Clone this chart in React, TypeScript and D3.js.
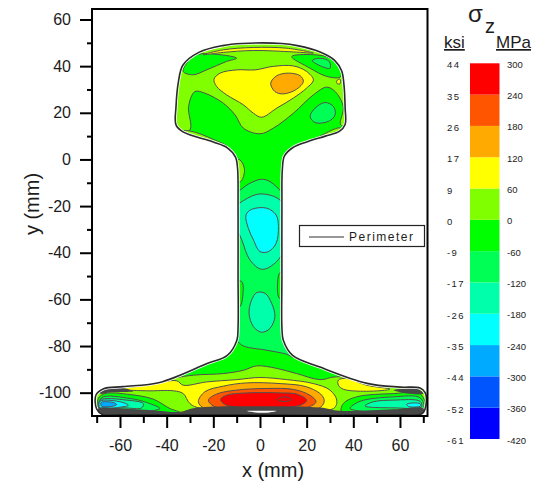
import React, { useEffect, useRef } from 'react';
import * as d3 from 'd3';

type Pt = [number, number];

// Axis ticks (mm)
const xMajor = [-60, -40, -20, 0, 20, 40, 60];
const xMinor = [-70, -50, -30, -10, 10, 30, 50, 70];
const yMajor = [60, 40, 20, 0, -20, -40, -60, -80, -100];
const yMinor = [50, 30, 10, -10, -30, -50, -70, -90];

// Colour key
const stressTicks = [300, 240, 180, 120, 60, 0, -60, -120, -180, -240, -300, -360, -420];
const ksiLabels = ['44', '35', '26', '17', '9', '0', '-9', '-17', '-26', '-35', '-44', '-52', '-61'];
const bandColors = ['#0000ff', '#0055ff', '#00aaff', '#00ffff', '#00ffaa', '#00ff55', '#00ff00', '#80ff00', '#ffff00', '#ffaa00', '#ff5500', '#ff0000'];

// Rail outline (mm)
const perimeter: Pt[] = [
  [-7.7, 49.7], [9.4, 49.7], [16, 48.8], [26, 46], [32, 42.5], [35, 38], [36, 32], [36.5, 22], [36.5, 15], [34, 12], [28, 10], [20, 7.5], [14, 5], [10.5, 1.5], [9.6, -4], [9.4, -20], [9.4, -50], [9.4, -72], [10, -77.5], [14, -84], [25.7, -89], [45.9, -96], [60, -97.6], [68.6, -98], [70.8, -100], [71, -106], [69.5, -109], [60, -109.5], [0, -109.5], [-60, -109.5], [-67.7, -109.3], [-70, -107], [-70.3, -101], [-67, -98.3], [-58.7, -97.4], [-43, -95.6], [-22.7, -87.5], [-14, -84], [-9.9, -77.5], [-9.4, -72], [-9.4, -50], [-9.4, -20], [-9.6, -4], [-10.5, 1], [-14, 5], [-20, 7.5], [-33, 11.8], [-36, 14.8], [-36, 22.5], [-35, 33], [-33, 40.5], [-26, 46], [-16, 48.8],
];

// Contours of the head
const headTension: Pt[] = [[-35.7, 11.2], [-30, 12.7], [-30.6, 22.7], [-27.9, 29.1], [-23.6, 28.4], [-15.7, 24.1], [-10.7, 19.1], [-7.1, 13.4], [0, 11], [5.7, 13.4], [14.3, 19.8], [22.9, 27.7], [28.6, 31], [32.2, 29.1], [35.7, 22.7], [34.6, 14.8], [38.6, 14.8], [38.6, 51.3], [-38.6, 51.3], [-39.3, 11.2]];
const headTopLeft: Pt[] = [[-31.4, 41.3], [-27.1, 44.9], [-17.1, 44.9], [-10, 43.4], [-14.3, 42], [-22.9, 38.4], [-28.6, 36.3], [-32.9, 37.7]];
const headTopRight: Pt[] = [[13.6, 44.1], [22.9, 44.9], [30, 43.4], [35, 37.7], [34.3, 35.3], [28.6, 35.6], [21.5, 39.1]];
const headTopRightCore: Pt[] = [[22.4, 42.4], [25.7, 43.4], [29.7, 42], [30, 39.1], [26.4, 39.9]];
const headYellow: Pt[] = [[-19.7, 34.4], [-17.1, 37], [-10, 38.4], [-2.1, 38.4], [5.7, 39.9], [14.3, 40.1], [20, 37.7], [22.9, 34.1], [20, 30.6], [14.3, 26.3], [7.2, 22], [0.7, 18.1], [-2.8, 19.8], [-7.1, 23.4], [-14.3, 27.7], [-18.6, 31.3]];
const headOrange: Pt[] = [[4.6, 32.7], [7.2, 35.9], [12.2, 37], [17.2, 35.9], [18.6, 33.4], [15.7, 30.1], [10, 28.1], [6.4, 29.1]];
const headRightLobe: Pt[] = [[21.5, 18.4], [23.6, 22], [27.9, 24.4], [31.5, 22.7], [32.2, 19.1], [29.3, 16.3], [23.6, 15.8]];
const headCrown: Pt[] = [[-24.3, 44.9], [-15.7, 47], [-2.9, 48], [11.4, 47.7], [22.9, 45.6], [14.3, 46.1], [-2.9, 46.7], [-15.7, 45.9]];
const headSpeck: Pt[] = [[33.2, 34.1], [34.3, 34.4], [34.3, 32.4], [32.9, 32.7]];
const headUnderLeft: Pt[] = [[-36, 12], [-30, 12.2], [-20, 8.6], [-13.6, 5.2], [-13, 3], [-21, 6], [-33, 10]];
const headUnderRight: Pt[] = [[34.5, 13.5], [22.9, 8.6], [14, 5], [15, 3], [24, 6], [36, 11]];

// Contours of the web
const webUpperSliver: Pt[] = [[-8.6, -0.2], [-6.7, -3.8], [-7.1, -7.4], [-8.3, -9.5], [-10.7, -9.5], [-10.7, -0.2]];
const webBand: Pt[] = [[-12, -14.5], [-10.7, -14.5], [-4.3, -10.2], [0.7, -8.5], [4.3, -9.5], [10, -14.5], [12, -16], [12, -60], [14.3, -84.6], [11.4, -83.5], [2.9, -81.8], [-7.1, -80], [-10, -77.8], [-12, -77], [-12, -40]];
const webLeftSliver: Pt[] = [[-7.8, -52.4], [-7.4, -58.8], [-8.6, -63.1], [-10.7, -63.1], [-10.7, -52.4]];
const webRightSliver: Pt[] = [[8.6, -48.5], [7.5, -53.8], [8.3, -59.5], [10.7, -59.5], [10.7, -48.5]];
const webUpperLobe: Pt[] = [[-7.8, -18.1], [0, -14.8], [8.6, -17.4], [11.7, -24.5], [11.7, -36], [6.4, -44.5], [0.7, -47.1], [-4.3, -43.1], [-7.8, -34.5], [-10.7, -27.4], [-10.7, -20.9]];
const webCore: Pt[] = [[-6, -23.8], [-3.6, -21.4], [2.9, -20.9], [6.9, -23.8], [7.9, -28.8], [6.9, -36], [3.6, -39.5], [0, -39.5], [-2.8, -34.5], [-5, -29.5]];
const webLowerLobe: Pt[] = [[-4.7, -66], [-3.6, -60.3], [-1.4, -57.1], [2.2, -57.4], [5, -61.7], [6.4, -67.4], [4.3, -72.4], [0.7, -74.1], [-2.8, -71.7]];

// Contours of the foot
const footTension: Pt[] = [[-72.9, -97.5], [-42.9, -94.6], [-28.6, -92.5], [-15.7, -91.8], [-7.1, -90.4], [-1.4, -88.5], [7.2, -89.6], [15.7, -91.8], [25.7, -94.4], [32.9, -93.2], [74.3, -98.9], [74.3, -110.4], [-72.9, -110.4]];
const footYellow: Pt[] = [[-60, -98.5], [-48.6, -96.8], [-35.7, -94.9], [-32.9, -96.8], [-22.9, -95.4], [-10, -94.4], [0, -93.5], [11.4, -94.4], [22.9, -96.1], [30, -98.9], [32.9, -103.2], [31.5, -106.8], [-25, -106.8], [-30, -104.7], [-32.9, -100.4], [-37.1, -99.2], [-48.6, -99.2]];
const footOrange: Pt[] = [[-26.4, -103.9], [-23.6, -99.6], [-15.7, -97.2], [-5.7, -95.8], [8.6, -96.1], [20, -97.5], [26.5, -101.1], [27.5, -103.9], [25, -106.8], [-23.6, -106.8]];
const footDeepOrange: Pt[] = [[-22.1, -103.2], [-18.6, -100.6], [-10, -98.9], [2.9, -98.2], [14.3, -98.6], [21.4, -101.1], [24, -103.9], [20, -106.4], [-18.6, -106.4]];
const footRed: Pt[] = [[-16.9, -102.9], [-14.3, -101.1], [-5.7, -100.1], [8.6, -100.1], [15.7, -100.6], [20, -103.2], [17.2, -105.4], [-14.3, -105.4]];
const footRedCore: Pt[] = [[7.4, -102.9], [10.7, -101.8], [13.6, -102.9], [12.2, -103.6], [8.6, -103.6]];
const footRightYellow: Pt[] = [[33.6, -94.6], [37.2, -93.9], [45.7, -96.8], [55.7, -98.5], [45.7, -99.4], [35.7, -98.5], [33.6, -96.8]];
const footLeft1: Pt[] = [[-66.4, -100.4], [-55.7, -100.8], [-45.7, -102.8], [-38.6, -106.8], [-34.3, -108.5], [-68.6, -108.5], [-69.3, -102.5]];
const footLeft2: Pt[] = [[-67.9, -102.2], [-55.7, -102.5], [-48.6, -104.2], [-42.9, -106.8], [-68.6, -107.7]];
const footLeft3: Pt[] = [[-68.6, -103.2], [-57.1, -103.2], [-50, -104.7], [-50.7, -106.5], [-58.6, -106.5], [-68.6, -106.8]];
const footLeft4: Pt[] = [[-68.6, -103.7], [-60, -103.9], [-56.4, -105.4], [-60, -106.2], [-68.6, -106.5]];
const footLeft5: Pt[] = [[-68.1, -104.2], [-62.9, -104.2], [-61.4, -105.1], [-63.6, -105.9], [-67.9, -105.8]];
const footRight1: Pt[] = [[35, -108.2], [35.7, -104.7], [41.4, -101.8], [57.2, -100.4], [68.6, -100.4], [70.7, -107.5]];
const footRight2: Pt[] = [[38.6, -106.8], [42.9, -103.7], [57.2, -101.8], [68.6, -102.2], [70, -106.8]];
const footRight3: Pt[] = [[45, -105.7], [48.6, -103.9], [57.2, -103.2], [68.6, -103.7], [69.3, -106.1], [57.2, -106.5]];
const footRight4: Pt[] = [[62.9, -104.9], [68.6, -104.7], [68.9, -105.7], [63.6, -105.9]];

// Patches where the contour lines run together into solid grey
const denseBottom: Pt[] = [[-69.3, -106.8], [-58.6, -106.8], [-44.3, -107.7], [-34.3, -108.2], [-27, -106.4], [0, -105.8], [25.7, -106.4], [34.3, -107.8], [57.2, -107.1], [70, -106.8], [70, -110], [-69.3, -110]];
const denseLeft: Pt[] = [[-68.6, -98.9], [-60, -97.9], [-54.3, -99.4], [-64.3, -99.9], [-68.6, -100.4]];
const denseRight: Pt[] = [[57.2, -98.9], [67.2, -98.2], [70, -100.4], [62.9, -100.4]];
const bottomGap: Pt[] = [[-5.7, -107.9], [-2, -107.8], [4, -107.8], [7.1, -107.9], [4, -108.5], [-2, -108.5]];

// Drawing order, outermost first, each with a stress inside its band (MPa)
const regions: { pts: Pt[]; stress: number }[] = [
  { pts: headTension, stress: 30 },
  { pts: headUnderLeft, stress: 30 },
  { pts: headUnderRight, stress: 30 },
  { pts: headTopLeft, stress: -30 },
  { pts: headTopRight, stress: -30 },
  { pts: headTopRightCore, stress: -90 },
  { pts: headYellow, stress: 90 },
  { pts: headOrange, stress: 150 },
  { pts: headRightLobe, stress: -90 },
  { pts: headCrown, stress: 90 },
  { pts: headSpeck, stress: 90 },
  { pts: webUpperSliver, stress: 30 },
  { pts: webBand, stress: -90 },
  { pts: webLeftSliver, stress: -30 },
  { pts: webRightSliver, stress: -30 },
  { pts: webUpperLobe, stress: -150 },
  { pts: webCore, stress: -210 },
  { pts: webLowerLobe, stress: -150 },
  { pts: footTension, stress: 30 },
  { pts: footYellow, stress: 90 },
  { pts: footOrange, stress: 150 },
  { pts: footDeepOrange, stress: 210 },
  { pts: footRed, stress: 270 },
  { pts: footRedCore, stress: 270 },
  { pts: footRightYellow, stress: 90 },
  { pts: footLeft1, stress: -30 },
  { pts: footLeft2, stress: -90 },
  { pts: footLeft3, stress: -150 },
  { pts: footLeft4, stress: -210 },
  { pts: footLeft5, stress: -270 },
  { pts: footRight1, stress: -30 },
  { pts: footRight2, stress: -90 },
  { pts: footRight3, stress: -150 },
  { pts: footRight4, stress: -210 },
];

const App = () => {
  const svgRef = useRef<SVGSVGElement>(null);

  useEffect(() => {
    const svg = d3.select(svgRef.current);
    svg.selectAll('*').remove();

    const font = '"Liberation Sans", Arial, sans-serif';
    const ink = '#1c1c1c';
    const left = 92, right = 427.5, top = 9, bottom = 416;

    const x = d3.scaleLinear().domain([-72, 71.8]).range([left, right]);
    const y = d3.scaleLinear().domain([-110, 64.5]).range([bottom, top]);
    const legendY = d3.scaleLinear().domain([-420, 300]).range([439, 63.3]);

    const ascending = [...stressTicks].reverse();
    const stressColor = d3.scaleThreshold<number, string>().domain(ascending.slice(1, -1)).range(bandColors);

    const outline = d3.line<Pt>().x(d => x(d[0])).y(d => y(d[1])).curve(d3.curveCatmullRomClosed.alpha(0.5));

    svg.append('defs').append('clipPath').attr('id', 'rail')
      .append('path').attr('d', outline(perimeter));

    // Filled contours
    svg.append('path').attr('d', outline(perimeter)).attr('fill', stressColor(-30));
    const field = svg.append('g').attr('clip-path', 'url(#rail)');
    field.selectAll('path.band')
      .data(regions)
      .enter()
      .append('path')
      .attr('class', 'band')
      .attr('d', d => outline(d.pts))
      .attr('fill', d => stressColor(d.stress))
      .attr('stroke', '#505050')
      .attr('stroke-width', 1);
    field.selectAll('path.dense')
      .data([denseLeft, denseRight])
      .enter()
      .append('path')
      .attr('class', 'dense')
      .attr('d', d => outline(d))
      .attr('fill', '#474747');

    // Perimeter line with its white gap
    svg.append('path').attr('d', outline(perimeter)).attr('fill', 'none').attr('stroke', 'white').attr('stroke-width', 3.2);
    const over = svg.append('g').attr('clip-path', 'url(#rail)');
    over.append('path').attr('d', outline(denseBottom)).attr('fill', '#474747');
    over.append('path').attr('d', outline(bottomGap)).attr('fill', 'white');
    svg.append('path').attr('d', outline(perimeter)).attr('fill', 'none').attr('stroke', '#2a2a2a').attr('stroke-width', 1.6);

    // Frame and axes
    svg.append('rect')
      .attr('x', left).attr('y', top)
      .attr('width', right - left).attr('height', bottom - top)
      .attr('fill', 'none').attr('stroke', 'black').attr('stroke-width', 2);

    const styleAxis = (g: any) => {
      g.select('.domain').remove();
      g.selectAll('line').attr('stroke', 'black').attr('stroke-width', 2);
      g.selectAll('text').attr('fill', ink).attr('font-family', font).attr('font-size', 16);
    };

    svg.append('g').attr('transform', `translate(0, ${bottom})`)
      .call(d3.axisBottom(x).tickValues(xMajor).tickSize(12).tickPadding(12).tickFormat(d => String(d)))
      .call(styleAxis);
    svg.append('g').attr('transform', `translate(0, ${bottom})`)
      .call(d3.axisBottom(x).tickValues(xMinor).tickSize(7).tickFormat(() => ''))
      .call(styleAxis);
    svg.append('g').attr('transform', `translate(${left}, 0)`)
      .call(d3.axisLeft(y).tickValues(yMajor).tickSize(12).tickPadding(9).tickFormat(d => String(d)))
      .call(styleAxis);
    svg.append('g').attr('transform', `translate(${left}, 0)`)
      .call(d3.axisLeft(y).tickValues(yMinor).tickSize(5).tickFormat(() => ''))
      .call(styleAxis);

    svg.append('text').attr('x', 273).attr('y', 477)
      .attr('text-anchor', 'middle').attr('font-family', font).attr('font-size', 20).attr('fill', ink)
      .text('x (mm)');
    svg.append('text').attr('transform', 'translate(39, 204) rotate(-90)')
      .attr('text-anchor', 'middle').attr('font-family', font).attr('font-size', 20).attr('fill', ink)
      .text('y (mm)');

    // Perimeter legend
    svg.append('rect').attr('x', 299.5).attr('y', 225.5).attr('width', 125).attr('height', 21)
      .attr('fill', 'white').attr('stroke', '#222').attr('stroke-width', 1.2);
    svg.append('line').attr('x1', 309).attr('x2', 344).attr('y1', 237).attr('y2', 237)
      .attr('stroke', '#333').attr('stroke-width', 1.2);
    svg.append('text').attr('x', 349).attr('y', 241)
      .attr('font-family', font).attr('font-size', 12).attr('letter-spacing', 1.5).attr('fill', ink)
      .text('Perimeter');

    // Colour key
    const bands = d3.pairs(ascending);
    svg.selectAll('rect.key')
      .data(bands)
      .enter()
      .append('rect')
      .attr('class', 'key')
      .attr('x', 470).attr('width', 29.5)
      .attr('y', d => legendY(d[1]))
      .attr('height', d => legendY(d[0]) - legendY(d[1]))
      .attr('fill', (d, i) => bandColors[i]);

    svg.selectAll('text.mpa')
      .data(stressTicks)
      .enter()
      .append('text')
      .attr('class', 'mpa')
      .attr('x', 507)
      .attr('y', d => legendY(d) + 4.5)
      .attr('font-family', font).attr('font-size', 9.5).attr('fill', ink)
      .text(d => d);

    svg.selectAll('text.ksi')
      .data(ksiLabels)
      .enter()
      .append('text')
      .attr('class', 'ksi')
      .attr('x', 447)
      .attr('y', (d, i) => legendY(stressTicks[i]) + 5)
      .attr('font-family', font).attr('font-size', 9.5).attr('letter-spacing', 1.4).attr('fill', ink)
      .text(d => d);

    svg.append('text').attr('x', 468).attr('y', 22)
      .attr('font-family', font).attr('font-size', 24).attr('fill', ink).text('σ');
    svg.append('text').attr('x', 485).attr('y', 33)
      .attr('font-family', font).attr('font-size', 20).attr('fill', ink).text('z');
    svg.append('text').attr('x', 444).attr('y', 48)
      .attr('font-family', font).attr('font-size', 17).attr('fill', ink)
      .attr('text-decoration', 'underline').text('ksi');
    svg.append('text').attr('x', 496).attr('y', 48)
      .attr('font-family', font).attr('font-size', 17).attr('fill', ink)
      .attr('text-decoration', 'underline').text('MPa');
  }, []);

  return <svg ref={svgRef} width={536} height={482} style={{ position: 'absolute', left: 0, top: 0 }}></svg>;
};

export default App;
